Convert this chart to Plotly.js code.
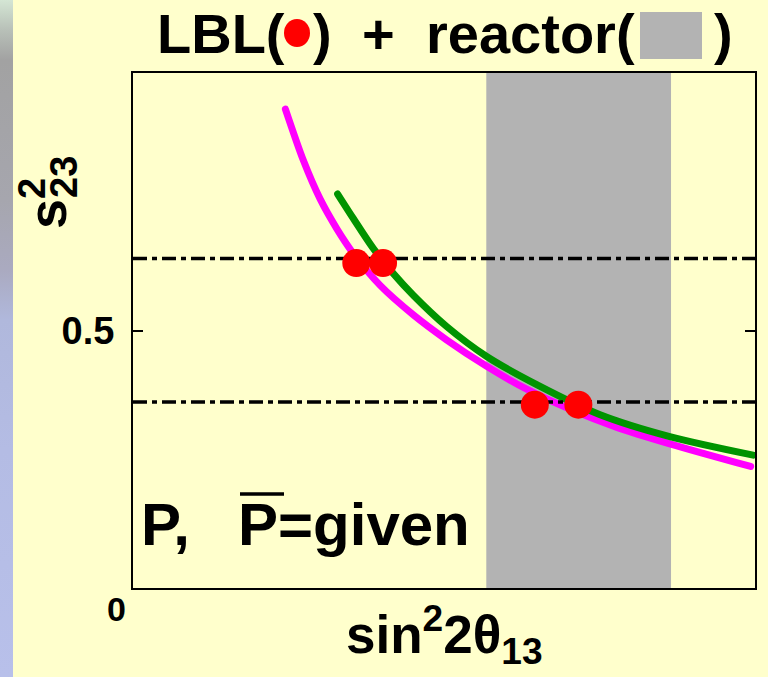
<!DOCTYPE html>
<html>
<head>
<meta charset="utf-8">
<script src="https://cdn.plot.ly/plotly-3.0.1.min.js"></script>
<style>
  html, body { margin: 0; padding: 0; background: #FFFFCC; }
  #wrap { position: relative; width: 768px; height: 677px; overflow: hidden; }
  #chart { position: absolute; left: 0; top: 0; width: 768px; height: 677px; }
  #edge {
    position: absolute; left: 0; top: 0; width: 13px; height: 677px; z-index: 5;
    background: linear-gradient(to bottom,
      #d4e6d4 0px, #b8c0b8 30px, #a2a2a2 60px, #a6a6ae 200px,
      #aaaac0 270px, #b0b8dc 320px, #b4bce4 450px, #b8c0ea 677px);
  }
  /* rounded ends on the two constraint curves */
  #chart .scatterlayer .trace:nth-child(-n+2) .js-line { stroke-linecap: round; }
</style>
</head>
<body>
<div id="wrap">
  <div id="chart"></div>
  <div id="edge"></div>
</div>
<script>
// sin^2 2θ13 vs s23^2 constraint curves
const magentaX = [0.245, 0.274, 0.301, 0.328, 0.354, 0.397, 0.451, 0.504, 0.568, 0.633, 0.703, 0.780, 0.863, 0.993];
const magentaY = [0.930, 0.830, 0.755, 0.697, 0.650, 0.588, 0.530, 0.482, 0.431, 0.386, 0.347, 0.311, 0.280, 0.236];

const greenX = [0.329, 0.354, 0.386, 0.419, 0.451, 0.504, 0.568, 0.649, 0.750, 0.863, 0.997];
const greenY = [0.765, 0.718, 0.660, 0.610, 0.568, 0.508, 0.450, 0.395, 0.337, 0.294, 0.258];

// LBL solutions
const dotX = [0.359, 0.402, 0.646, 0.716];
const dotY = [0.631, 0.631, 0.356, 0.356];

// s23^2 reference levels (dash-dot lines)
const s23Levels = [0.640, 0.361];
const fullSpan = [0, 1];

// reactor-allowed sin^2 2θ13 band
const reactorBand = [0.568, 0.865];

// y-axis tick labels
const yTickVals = [0.5];
const yTickText = ['0.5'];

// plot-area pixel frame, used to place the free text around it
const L = 133, R = 755, T = 73, B = 588;
const px = x => (x - L) / (R - L);
const py = y => (B - y) / (B - T);

const FAMILY = '"Liberation Sans", Arial, Helvetica, sans-serif';

const traces = [
  {
    x: magentaX, y: magentaY, type: 'scatter', mode: 'lines',
    line: { color: '#FF00FF', width: 7, shape: 'spline', smoothing: 0.8 },
    hoverinfo: 'skip'
  },
  {
    x: greenX, y: greenY, type: 'scatter', mode: 'lines',
    line: { color: '#009400', width: 7, shape: 'spline', smoothing: 0.8 },
    hoverinfo: 'skip'
  }
];

s23Levels.forEach(v => {
  traces.push({
    x: fullSpan, y: [v, v], type: 'scatter', mode: 'lines',
    line: { color: '#000000', width: 3.5, dash: '14px,5px,5px,5px' },
    hoverinfo: 'skip'
  });
});

traces.push({
  x: dotX, y: dotY, type: 'scatter', mode: 'markers',
  marker: { color: '#FF0000', size: 28, line: { width: 0 } },
  hoverinfo: 'skip'
});

function txt(text, x, y, size, opts) {
  return Object.assign({
    text: '<b>' + text + '</b>', xref: 'paper', yref: 'paper',
    x: x, y: y, xanchor: 'left', yanchor: 'middle', showarrow: false,
    font: { family: FAMILY, size: size, color: '#000000' }
  }, opts || {});
}

const annotations = [
  // heading
  txt('LBL(', px(155), py(33), 56),
  txt(')', px(311), py(33), 56),
  txt('+', px(378), py(33), 56, { xanchor: 'center' }),
  txt('reactor(', px(424), py(33), 56),
  txt(')', px(712), py(33), 56),
  // in-plot label
  txt('P,', px(139), py(524), 60),
  txt('P=given', px(236), py(524), 60),
  // y-axis title s^2_23
  txt('s', px(47), py(214), 54, { xanchor: 'center', textangle: -90 }),
  txt('2', px(32), py(189), 38, { xanchor: 'center', textangle: -90 }),
  txt('23', px(64), py(177), 38, { xanchor: 'center', textangle: -90 }),
  // origin label
  txt('0', px(116), py(609), 34, { xanchor: 'center' }),
  // x-axis title
  txt('sin<sup>2</sup>2θ<sub>13</sub>', px(444), py(634), 53, { xanchor: 'center' })
];

const shapes = [
  {
    type: 'rect', xref: 'x', yref: 'paper', layer: 'below',
    x0: reactorBand[0], x1: reactorBand[1], y0: 0, y1: 1,
    fillcolor: '#B3B3B3', line: { width: 0 }
  },
  // heading symbols
  {
    type: 'circle', xref: 'paper', yref: 'paper',
    x0: px(284), x1: px(310), y0: py(47), y1: py(19),
    fillcolor: '#FF0000', line: { width: 0 }
  },
  {
    type: 'rect', xref: 'paper', yref: 'paper',
    x0: px(640), x1: px(702), y0: py(59), y1: py(12),
    fillcolor: '#B3B3B3', line: { width: 0 }
  },
  // bar over the second P
  {
    type: 'line', xref: 'paper', yref: 'paper',
    x0: px(240), x1: px(284), y0: py(494), y1: py(494),
    line: { color: '#000000', width: 3.5 }
  }
];

const layout = {
  width: 768, height: 677,
  margin: { l: L, r: 768 - R, t: T, b: 677 - B, pad: 0 },
  paper_bgcolor: '#FFFFCC', plot_bgcolor: '#FFFFCC',
  showlegend: false,
  xaxis: {
    range: [0, 1], showticklabels: false, ticks: '',
    showgrid: false, zeroline: false,
    showline: true, mirror: true, linecolor: '#000000', linewidth: 2
  },
  yaxis: {
    range: [0, 1], tickvals: yTickVals, ticktext: yTickText,
    ticks: 'inside', ticklen: 10, tickwidth: 2, tickcolor: '#000000',
    ticklabelstandoff: 9,
    tickfont: { family: FAMILY, size: 38, color: '#000000', weight: 'bold' },
    showgrid: false, zeroline: false,
    showline: true, mirror: 'ticks', linecolor: '#000000', linewidth: 2
  },
  annotations: annotations,
  shapes: shapes
};

Plotly.newPlot('chart', traces, layout, { displayModeBar: false, staticPlot: true });
</script>
</body>
</html>
